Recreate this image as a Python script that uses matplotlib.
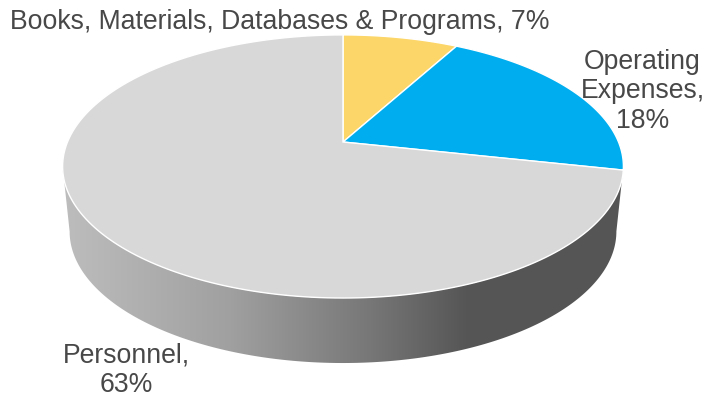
import numpy as np
import matplotlib
matplotlib.use('Agg')
import matplotlib.pyplot as plt
from matplotlib.colors import LinearSegmentedColormap
from matplotlib.patches import Polygon

# Slice data, clockwise from 12 o'clock
labels = ['Books, Materials, Databases & Programs, 7%', 'Operating\nExpenses,\n18%', 'Personnel,\n63%']
values = [7, 18, 63]
colors = ['#FCD668', '#00AEEF', '#D8D8D8']

# Pixel geometry of the tilted pie
cx, cy = 343, 142
a, b, k = 275.5, 127, 0.186
depth = 65
bottom_scale = 0.975


def project(theta, r=1.0):
    # Perspective projection of a point on the flat pie onto the page
    x = r * np.cos(theta)
    y = r * np.sin(theta)
    d = 1 + k * y
    return cx + a * x / d, cy - b * y / d


fig = plt.figure(figsize=(7.19, 4.01), dpi=100)
ax = fig.add_axes([0, 0, 1, 1])
ax.set_xlim(0, 719)
ax.set_ylim(401, 0)
ax.axis('off')

# Side wall with a horizontal gradient, from the widest points of the rim
t = np.linspace(np.radians(190.7), np.radians(349.3), 300)
top_x, top_y = project(t)
mid = (top_x.min() + top_x.max()) / 2
bot_x = mid + (top_x - mid) * bottom_scale
bot_y = top_y + depth
wall = np.column_stack([np.r_[top_x, bot_x[::-1]], np.r_[top_y, bot_y[::-1]]])
wall_patch = Polygon(wall, closed=True, fc='none', ec='none')
ax.add_patch(wall_patch)
cmap = LinearSegmentedColormap.from_list('wall', [(0, '#BDBDBD'), (0.3, '#A0A0A0'), (0.55, '#777777'), (0.72, '#565656'), (1, '#555555')])
im = ax.imshow(np.linspace(0, 1, 256)[None, :], cmap=cmap, vmin=0, vmax=1, aspect='auto',
               extent=[62, 623, 401, 0], zorder=1)
im.set_clip_path(wall_patch)
ax.set_xlim(0, 719)
ax.set_ylim(401, 0)

# Top face
start = np.pi / 2
total = sum(values)
for value, color in zip(values, colors):
    end = start - 2 * np.pi * value / total
    th = np.linspace(start, end, 200)
    px, py = project(th)
    ax.fill(np.r_[cx, px], np.r_[cy, py], fc=color, ec='white', lw=1.0, zorder=2)
    start = end

# Labels
text_kw = dict(family='Liberation Sans', fontsize=19.2, color='#484848', ha='center', va='center', linespacing=1.19, zorder=3)
ax.text(280, 22, labels[0], **text_kw)
ax.text(642.5, 91.5, labels[1], **text_kw)
ax.text(126, 370, labels[2], **text_kw)

fig.savefig('out.png', dpi=100)
